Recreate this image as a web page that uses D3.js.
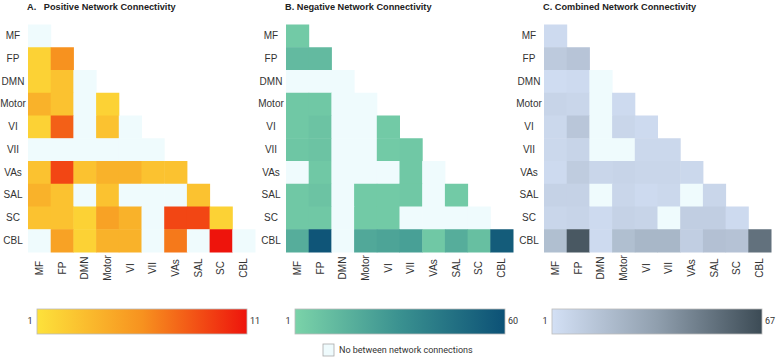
<!DOCTYPE html>
<html>
<head>
<meta charset="utf-8">
<script src="https://cdn.jsdelivr.net/npm/d3@7"></script>
<style>
  body { margin: 0; background: #fff; }
  svg { font-family: "Liberation Sans", Arial, sans-serif; }
</style>
</head>
<body>
<div id="chart"></div>
<script>
const networks = ["MF", "FP", "DMN", "Motor", "VI", "VII", "VAs", "SAL", "SC", "CBL"];

// lower triangle, row by row (row i has i+1 values, columns MF..row)
const positive = [
  [0],
  [2, 6],
  [2, 3, 0],
  [4, 3, 0, 2],
  [2, 8, 0, 3, 0],
  [0, 0, 0, 0, 0, 0],
  [3, 9, 3, 4, 4, 3, 3],
  [4, 3, 0, 3, 0, 0, 0, 3],
  [3, 3, 2, 5, 4, 0, 9, 9, 2],
  [0, 5, 2, 4, 4, 0, 7, 0, 11, 0]
];
const negative = [
  [5],
  [12, 12],
  [0, 0, 0],
  [6, 6, 0, 0],
  [6, 8, 0, 0, 5],
  [7, 8, 0, 0, 5, 6],
  [0, 6, 0, 0, 0, 6, 0],
  [6, 8, 0, 5, 5, 6, 0, 5],
  [6, 6, 0, 5, 5, 0, 0, 0, 0],
  [18, 58, 0, 20, 22, 24, 6, 18, 10, 55]
];
const combined = [
  [4],
  [12, 15],
  [3, 4, 0],
  [7, 6, 0, 4],
  [5, 14, 0, 6, 4],
  [5, 7, 0, 0, 5, 5],
  [4, 11, 6, 7, 6, 6, 5],
  [8, 8, 0, 6, 4, 5, 0, 6],
  [6, 7, 4, 8, 7, 0, 10, 10, 4],
  [18, 62, 4, 18, 22, 22, 10, 17, 16, 52]
];

const titles = ["A.   Positive Network Connectivity", "B. Negative Network Connectivity", "C. Combined Network Connectivity"];
const maxima = [11, 60, 67];
const noneLabel = "No between network connections";

const width = 777, height = 360;
const emptyColor = "#effbfd";

const panels = [
  { data: positive, title: titles[0], max: maxima[0], left: 28, colors: ["#fde23b", "#f7921f", "#ee140c"], legendX: 37 },
  { data: negative, title: titles[1], max: maxima[1], left: 286, colors: ["#7bd3a9", "#3a9190", "#0c5176"], legendX: 295 },
  { data: combined, title: titles[2], max: maxima[2], left: 544, colors: ["#d3e0f5", "#909fae", "#3c4b55"], legendX: 552 }
];

const svg = d3.select("#chart")
  .append("svg")
  .attr("width", width)
  .attr("height", height);

const defs = svg.append("defs");

panels.forEach((p, k) => {
  let x = d3.scaleBand()
    .domain(networks)
    .range([p.left, p.left + 227]);

  let y = d3.scaleBand()
    .domain(networks)
    .range([24.5, 252]);

  let color = d3.scaleLinear()
    .domain([1, (1 + p.max) / 2, p.max])
    .range(p.colors);

  let cells = [];
  p.data.forEach((row, i) => {
    row.forEach((v, j) => cells.push({ row: networks[i], col: networks[j], value: v }));
  });

  let g = svg.append("g");

  g.selectAll("rect")
    .data(cells)
    .join("rect")
    .attr("x", d => x(d.col))
    .attr("y", d => y(d.row))
    .attr("width", x.bandwidth() + 0.5)
    .attr("height", y.bandwidth() + 0.5)
    .attr("fill", d => d.value > 0 ? color(d.value) : emptyColor);

  // title
  svg.append("text")
    .attr("x", p.left - 1)
    .attr("y", 10)
    .attr("font-size", 9.2)
    .attr("font-weight", "bold")
    .attr("fill", "#222")
    .style("white-space", "pre")
    .text(p.title);

  // row labels (centred in the left margin)
  let yAxis = svg.append("g")
    .attr("transform", `translate(${p.left - 15},0)`)
    .call(d3.axisLeft(y).tickSize(0).tickPadding(0));
  yAxis.select(".domain").remove();
  yAxis.selectAll("text")
    .attr("font-size", 10)
    .attr("font-family", "Liberation Sans, Arial, sans-serif")
    .attr("fill", "#333")
    .attr("text-anchor", "middle");

  // column labels, rotated and centred
  let xAxis = svg.append("g")
    .attr("transform", `translate(0,268)`)
    .call(d3.axisBottom(x).tickSize(0).tickPadding(0));
  xAxis.select(".domain").remove();
  xAxis.selectAll("text")
    .attr("font-size", 10)
    .attr("font-family", "Liberation Sans, Arial, sans-serif")
    .attr("fill", "#333")
    .attr("transform", "rotate(-90)")
    .attr("text-anchor", "middle")
    .attr("x", 0)
    .attr("y", 0)
    .attr("dy", "0.35em");

  // legend gradient
  let grad = defs.append("linearGradient")
    .attr("id", "grad" + k);
  p.colors.forEach((c, i) => {
    grad.append("stop")
      .attr("offset", (i / (p.colors.length - 1) * 100) + "%")
      .attr("stop-color", c);
  });

  let lx = d3.scaleLinear()
    .domain([1, p.max])
    .range([p.legendX, p.legendX + 210]);

  svg.append("rect")
    .attr("x", lx(1))
    .attr("y", 309)
    .attr("width", lx(p.max) - lx(1))
    .attr("height", 25)
    .attr("fill", `url(#grad${k})`)
    .attr("stroke", "#bbb")
    .attr("stroke-width", 0.8);

  svg.append("text")
    .attr("x", lx(1) - 7)
    .attr("y", 322)
    .attr("dominant-baseline", "middle")
    .attr("text-anchor", "middle")
    .attr("font-size", 9)
    .attr("font-family", "Roboto, sans-serif")
    .attr("fill", "#333")
    .text(1);

  svg.append("text")
    .attr("x", lx(p.max) + 3)
    .attr("y", 322)
    .attr("dominant-baseline", "middle")
    .attr("font-size", 9)
    .attr("font-family", "Roboto, sans-serif")
    .attr("fill", "#333")
    .text(p.max);
});

// empty-cell key
svg.append("rect")
  .attr("x", 323)
  .attr("y", 344)
  .attr("width", 11)
  .attr("height", 12)
  .attr("fill", emptyColor)
  .attr("stroke", "#aaa")
  .attr("stroke-width", 0.8);

svg.append("text")
  .attr("x", 339)
  .attr("y", 350.5)
  .attr("dominant-baseline", "middle")
  .attr("font-size", 9)
  .attr("font-family", "Roboto, sans-serif")
  .attr("fill", "#333")
  .text(noneLabel);
</script>
</body>
</html>
